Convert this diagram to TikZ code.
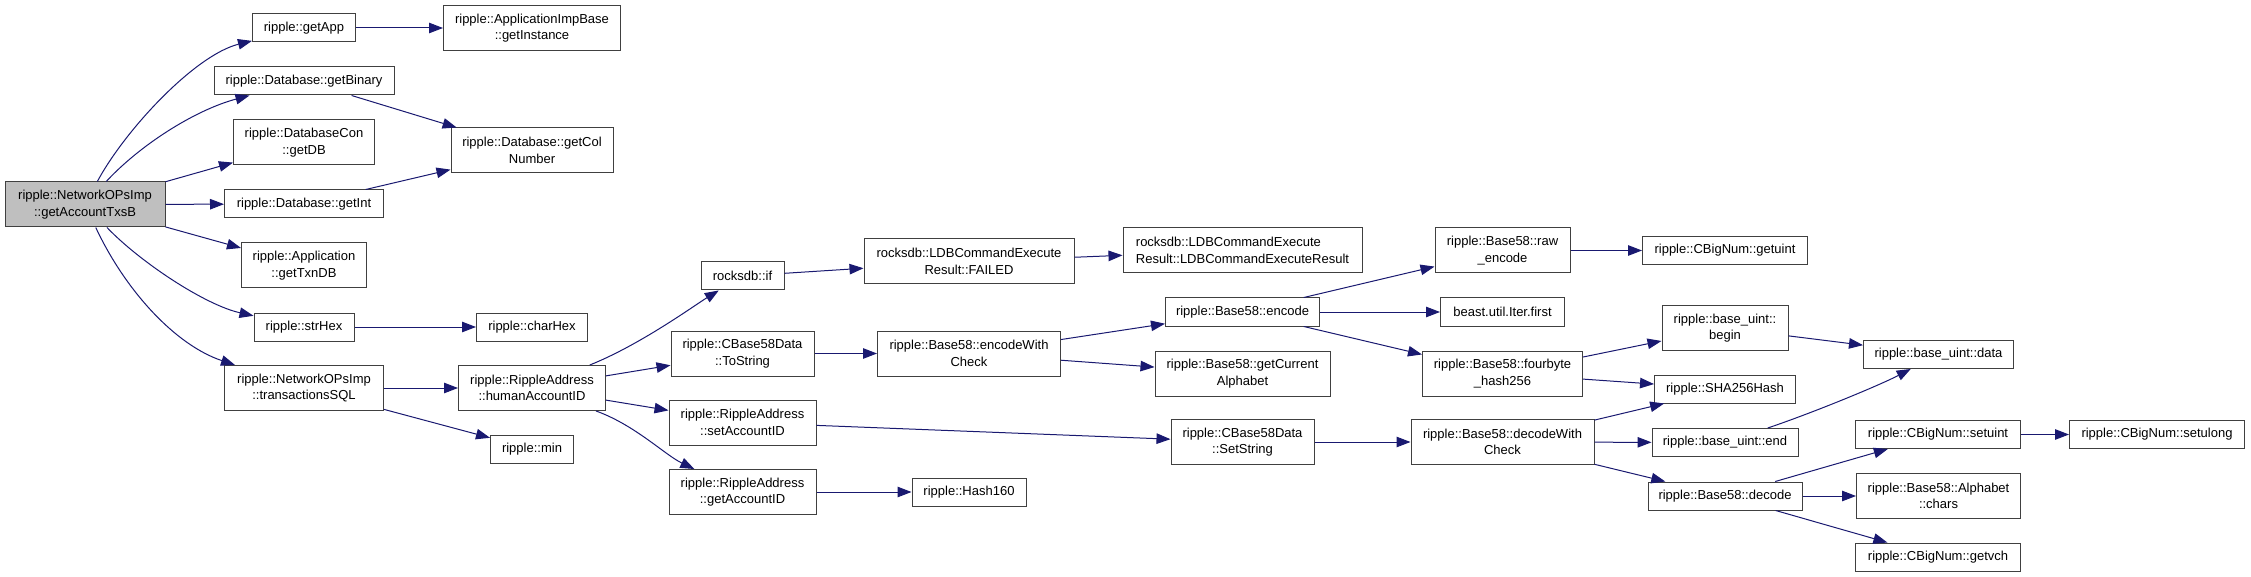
\documentclass[tikz,border=0pt]{standalone}
\usepackage{fontspec}
\setmainfont{Liberation Sans}
\usetikzlibrary{arrows.meta}
\definecolor{edgeblue}{HTML}{191970}
\definecolor{boxline}{HTML}{404040}
\tikzset{
  fn/.style={draw=boxline, line width=1pt, inner sep=0pt, align=center,
    font=\fontsize{13pt}{16.5pt}\selectfont},
  one/.style={fn, minimum height=28pt, minimum width=#1},
  two/.style={fn, minimum height=45pt, minimum width=#1},
  call/.style={draw=edgeblue, line width=1pt, -{Triangle[length=14pt,width=10.5pt]}}
}
\begin{document}
\begin{tikzpicture}[x=1pt,y=-1pt]
\useasboundingbox (0,0) rectangle (2251,577);
% caller
\node[two=160pt, fill=black!25] (root) at (85,204.5) {ripple::NetworkOPsImp\\::getAccountTxsB};
% first column of callees
\node[one=103pt] (getApp) at (304,28) {ripple::getApp};
\node[one=180pt] (getBinary) at (304,81) {ripple::Database::getBinary};
\node[two=141pt] (getDB) at (304,142.5) {ripple::DatabaseCon\\::getDB};
\node[one=159pt] (getInt) at (304,204) {ripple::Database::getInt};
\node[two=125pt] (getTxnDB) at (304,265.5) {ripple::Application\\::getTxnDB};
\node[one=100pt] (strHex) at (304,327) {ripple::strHex};
\node[two=159pt] (transSQL) at (304,388) {ripple::NetworkOPsImp\\::transactionsSQL};
% second column
\node[two=177pt] (getInstance) at (532,28) {ripple::ApplicationImpBase\\::getInstance};
\node[two=162pt] (getColNumber) at (532,150.5) {ripple::Database::getCol\\Number};
\node[one=111pt] (charHex) at (532,327) {ripple::charHex};
\node[two=147pt] (humanID) at (532,388) {ripple::RippleAddress\\::humanAccountID};
\node[one=83pt] (rmin) at (532,449) {ripple::min};
% third column
\node[one=83pt] (rdbIf) at (742.5,276) {rocksdb::if};
\node[two=143pt] (toString) at (742.5,353.5) {ripple::CBase58Data\\::ToString};
\node[two=147pt] (setID) at (742.5,422.5) {ripple::RippleAddress\\::setAccountID};
\node[two=147pt] (getID) at (742.5,492) {ripple::RippleAddress\\::getAccountID};
% fourth column
\node[two=210pt] (failed) at (969,261.5) {rocksdb::LDBCommandExecute\\Result::FAILED};
\node[two=183pt] (encCheck) at (969,353.5) {ripple::Base58::encodeWith\\Check};
\node[one=114pt] (hash160) at (969,492) {ripple::Hash160};
% fifth column
\node[two=239pt, align=left] (ldbResult) at (1242.5,250.5) {rocksdb::LDBCommandExecute\\Result::LDBCommandExecuteResult};
\node[one=154pt] (encode) at (1242.5,312) {ripple::Base58::encode};
\node[two=175pt] (curAlpha) at (1242.5,373.5) {ripple::Base58::getCurrent\\Alphabet};
\node[two=143pt] (setString) at (1242.5,442) {ripple::CBase58Data\\::SetString};
% sixth column
\node[two=135pt] (rawEnc) at (1502.5,250.5) {ripple::Base58::raw\\\_encode};
\node[one=124pt] (iterFirst) at (1502.5,312) {beast.util.Iter.first};
\node[two=160pt] (fourbyte) at (1502.5,373.5) {ripple::Base58::fourbyte\\\_hash256};
\node[two=183pt] (decCheck) at (1502.5,442) {ripple::Base58::decodeWith\\Check};
% seventh column
\node[one=165pt] (getuint) at (1725,250.5) {ripple::CBigNum::getuint};
\node[two=126pt] (uBegin) at (1725,328) {ripple::base\_uint::\\begin};
\node[one=141pt] (sha) at (1725,389) {ripple::SHA256Hash};
\node[one=146pt] (uEnd) at (1725,442.5) {ripple::base\_uint::end};
\node[one=154pt] (decode) at (1725,496) {ripple::Base58::decode};
% eighth column
\node[one=150pt] (uData) at (1938.5,354.5) {ripple::base\_uint::data};
\node[one=165pt] (setuint) at (1938,434.5) {ripple::CBigNum::setuint};
\node[two=164pt] (chars) at (1938.5,496) {ripple::Base58::Alphabet\\::chars};
\node[one=165pt] (getvch) at (1938,557) {ripple::CBigNum::getvch};
% last column
\node[one=175pt] (setulong) at (2157,434.5) {ripple::CBigNum::setulong};

% calls from the root
\draw[call] (root) .. controls (125,130) and (195,55) .. (getApp);
\draw[call] (root) .. controls (140,145) and (195,110) .. (getBinary);
\draw[call] (root) -- (getDB);
\draw[call] (root) -- (getInt);
\draw[call] (root) -- (getTxnDB);
\draw[call] (root) .. controls (140,262) and (205,305) .. (strHex);
\draw[call] (root) .. controls (125,290) and (175,345) .. (transSQL);
% the rest
\draw[call] (getApp) -- (getInstance);
\draw[call] (getBinary) -- (getColNumber);
\draw[call] (getInt) -- (getColNumber);
\draw[call] (strHex) -- (charHex);
\draw[call] (transSQL) -- (humanID);
\draw[call] (transSQL) -- (rmin);
\draw[call] (humanID) .. controls (640,345) and (695,305) .. (rdbIf);
\draw[call] (humanID) -- (toString);
\draw[call] (humanID) -- (setID);
\draw[call] (humanID) .. controls (635,425) and (665,455) .. (getID);
\draw[call] (rdbIf) -- (failed);
\draw[call] (failed) -- (ldbResult);
\draw[call] (toString) -- (encCheck);
\draw[call] (encCheck) -- (encode);
\draw[call] (encCheck) -- (curAlpha);
\draw[call] (setID) -- (setString);
\draw[call] (getID) -- (hash160);
\draw[call] (encode) -- (rawEnc);
\draw[call] (encode) -- (iterFirst);
\draw[call] (encode) -- (fourbyte);
\draw[call] (rawEnc) -- (getuint);
\draw[call] (fourbyte) -- (uBegin);
\draw[call] (fourbyte) -- (sha);
\draw[call] (setString) -- (decCheck);
\draw[call] (decCheck) -- (sha);
\draw[call] (decCheck) -- (uEnd);
\draw[call] (decCheck) -- (decode);
\draw[call] (uBegin) -- (uData);
\draw[call] (uEnd) .. controls (1815,412) and (1880,385) .. (uData);
\draw[call] (decode) -- (setuint);
\draw[call] (decode) -- (chars);
\draw[call] (decode) -- (getvch);
\draw[call] (setuint) -- (setulong);
\end{tikzpicture}
\end{document}
